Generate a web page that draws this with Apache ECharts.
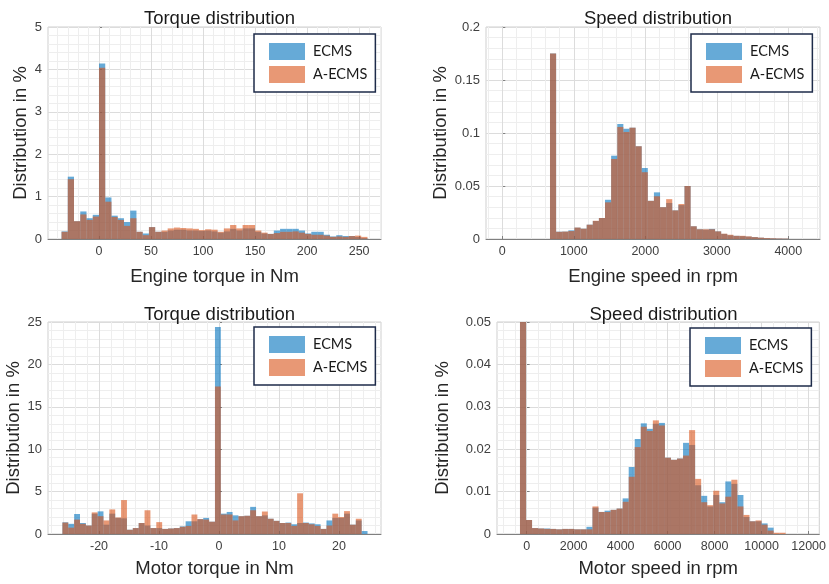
<!DOCTYPE html>
<html>
<head>
<meta charset="utf-8">
<script src="https://cdn.jsdelivr.net/npm/echarts@6/dist/echarts.min.js"></script>
<style>
  html, body { margin: 0; padding: 0; background: #ffffff; }
  #chart { width: 829px; height: 584px; }
</style>
</head>
<body>
<div id="chart"></div>
<script>
// ---------- Engine torque distribution (Nm) ----------
const engineTorqueBinStart = -36;
const engineTorqueBinWidth = 6;
const engineTorqueECMS = [0.18, 1.47, 0.42, 0.65, 0.49, 0.57, 4.14, 0.98, 0.55, 0.49, 0.40, 0.67,
  0.17, 0.13, 0.28, 0.17, 0.17, 0.20, 0.22, 0.22, 0.20, 0.20, 0.19, 0.20, 0.18, 0.15, 0.18, 0.24,
  0.20, 0.25, 0.25, 0.17, 0.13, 0.12, 0.20, 0.24, 0.24, 0.24, 0.20, 0.13, 0.17, 0.17, 0.10, 0.06,
  0.09, 0.07, 0.07, 0.05, 0.02];
const engineTorqueAECMS = [0.17, 1.41, 0.42, 0.58, 0.45, 0.53, 4.04, 0.88, 0.52, 0.45, 0.31, 0.49,
  0.17, 0.09, 0.28, 0.17, 0.20, 0.25, 0.27, 0.26, 0.25, 0.24, 0.21, 0.23, 0.22, 0.17, 0.25, 0.33,
  0.25, 0.33, 0.33, 0.20, 0.15, 0.12, 0.14, 0.17, 0.17, 0.18, 0.15, 0.12, 0.10, 0.10, 0.08, 0.05,
  0.06, 0.05, 0.07, 0.08, 0.05];
const engineTorqueTicks = [0, 50, 100, 150, 200, 250];

// ---------- Engine speed distribution (rpm) ----------
const engineSpeedBinStart = 667;
const engineSpeedBinWidth = 85.5;
const engineSpeedECMS = [0.175, 0.0069, 0.0070, 0.0082, 0.0107, 0.0097, 0.0135, 0.0170, 0.0198,
  0.0370, 0.0786, 0.1085, 0.1040, 0.1050, 0.0875, 0.0670, 0.0360, 0.0440, 0.0300, 0.0340, 0.0270,
  0.0320, 0.0500, 0.0120, 0.0092, 0.0088, 0.0095, 0.0072, 0.0048, 0.0035, 0.0030, 0.0027, 0.0022,
  0.0018, 0.0012, 0.0008, 0.0006, 0.0004, 0.0003];
const engineSpeedAECMS = [0.175, 0.0068, 0.0070, 0.0075, 0.0108, 0.0097, 0.0135, 0.0172, 0.0198,
  0.0346, 0.0755, 0.1057, 0.1010, 0.1050, 0.0875, 0.0630, 0.0360, 0.0403, 0.0300, 0.0376, 0.0270,
  0.0330, 0.0500, 0.0120, 0.0092, 0.0092, 0.0092, 0.0072, 0.0050, 0.0040, 0.0030, 0.0030, 0.0025,
  0.0018, 0.0013, 0.0009, 0.0007, 0.0005, 0.0004];
const engineSpeedTicks = [0, 1000, 2000, 3000, 4000];

// ---------- Motor torque distribution (Nm) ----------
const motorTorqueBinStart = -26.1;
const motorTorqueBinWidth = 0.978;
const motorTorqueECMS = [1.38, 1.2, 2.36, 1.3, 1.0, 2.4, 2.67, 1.1, 2.4, 1.9, 1.85, 0.5, 0.7, 1.3,
  1.0, 0.7, 0.7, 0.6, 0.65, 0.7, 0.9, 1.5, 1.5, 1.75, 1.9, 1.45, 24.4, 2.4, 2.6, 2.2, 2.1, 2.15,
  3.2, 2.1, 2.2, 1.8, 1.55, 1.3, 1.35, 1.15, 1.3, 1.35, 1.25, 1.15, 0.6, 1.6, 1.9, 1.9, 2.4, 1.1,
  1.6, 0.35];
const motorTorqueAECMS = [1.35, 0.75, 1.7, 1.2, 1.0, 2.55, 2.1, 1.6, 2.9, 1.95, 4.0, 0.5, 0.7, 1.3,
  2.8, 0.7, 1.4, 0.6, 0.65, 0.7, 0.85, 0.95, 2.3, 1.75, 1.7, 1.45, 17.4, 2.3, 2.3, 1.6, 2.1, 2.15,
  2.8, 2.1, 2.65, 1.8, 1.55, 1.3, 1.3, 0.95, 4.8, 1.3, 1.15, 0.95, 0.6, 1.0, 2.4, 2.0, 2.7, 1.1,
  1.8, 0];
const motorTorqueTicks = [-20, -10, 0, 10, 20];

// ---------- Motor speed distribution (rpm) ----------
const motorSpeedBinStart = -283;
const motorSpeedBinWidth = 257;
const motorSpeedECMS = [0.05, 0.0033, 0.0014, 0.0013, 0.0013, 0.0012, 0.0011, 0.0012, 0.0012,
  0.0011, 0.0011, 0.0017, 0.0062, 0.0052, 0.0055, 0.0057, 0.0060, 0.0084, 0.0158, 0.0224, 0.0261,
  0.0248, 0.0260, 0.0262, 0.0180, 0.0175, 0.0178, 0.0215, 0.0210, 0.0115, 0.0090, 0.0065, 0.0092,
  0.0075, 0.0124, 0.0118, 0.0092, 0.0040, 0.0030, 0.0030, 0.0025, 0.0015, 0, 0];
const motorSpeedAECMS = [0.05, 0.0033, 0.0014, 0.0013, 0.0012, 0.0012, 0.0011, 0.0012, 0.0012,
  0.0011, 0.0011, 0.0011, 0.0065, 0.0052, 0.0052, 0.0057, 0.0060, 0.0076, 0.0135, 0.0205, 0.0253,
  0.0243, 0.0268, 0.0256, 0.0180, 0.0175, 0.0178, 0.0185, 0.0245, 0.0130, 0.0075, 0.0068, 0.0102,
  0.0072, 0.0088, 0.0128, 0.0065, 0.0045, 0.0030, 0.0032, 0.0022, 0.0008, 0.0003, 0.0003];
const motorSpeedTicks = [0, 2000, 4000, 6000, 8000, 10000, 12000];

const seriesNames = ['ECMS', 'A-ECMS'];
const yAxisTitle = 'Distribution in %';

// ---------- styling ----------
const FONT = '"Liberation Sans", Arial, Helvetica, sans-serif';
const LEGEND_FONT = 'Lato, "Open Sans", sans-serif';
const FILL = ['rgba(0,114,189,0.6)', 'rgba(217,83,25,0.6)'];
const SWATCH = ['#66aad7', '#e89875'];
const AXIS_COLOR = '#808080';
const MAJOR_GRID = '#dcdcdc';
const MINOR_GRID = '#eeeeee';

const panels = [
  { title: 'Torque distribution', xName: 'Engine torque in Nm',
    grid: { left: 48, top: 27, width: 333, height: 212 },
    xMin: -49, xMax: 271, ticks: engineTorqueTicks, minorStep: 10,
    yMax: 5, yStep: 1, yNameGap: 17, xNameGap: 28, titleTop: 4,
    legend: { left: 254, top: 34 },
    start: engineTorqueBinStart, width: engineTorqueBinWidth,
    values: [engineTorqueECMS, engineTorqueAECMS] },
  { title: 'Speed distribution', xName: 'Engine speed in rpm',
    grid: { left: 486, top: 27, width: 334, height: 212 },
    xMin: -228, xMax: 4443, ticks: engineSpeedTicks, minorStep: 200,
    yMax: 0.2, yStep: 0.05, yNameGap: 34, xNameGap: 28, titleTop: 4,
    legend: { left: 691, top: 34 },
    start: engineSpeedBinStart, width: engineSpeedBinWidth,
    values: [engineSpeedECMS, engineSpeedAECMS] },
  { title: 'Torque distribution', xName: 'Motor torque in Nm',
    grid: { left: 48, top: 322, width: 333, height: 212 },
    xMin: -28.5, xMax: 27, ticks: motorTorqueTicks, minorStep: 2,
    yMax: 25, yStep: 5, yNameGap: 24, xNameGap: 25, titleTop: 300,
    legend: { left: 254, top: 327 },
    start: motorTorqueBinStart, width: motorTorqueBinWidth,
    values: [motorTorqueECMS, motorTorqueAECMS] },
  { title: 'Speed distribution', xName: 'Motor speed in rpm',
    grid: { left: 497, top: 322, width: 323, height: 212 },
    xMin: -1261, xMax: 12454, ticks: motorSpeedTicks, minorStep: 500,
    yMax: 0.05, yStep: 0.01, yNameGap: 45, xNameGap: 25, titleTop: 300,
    legend: { left: 690, top: 328 },
    start: motorSpeedBinStart, width: motorSpeedBinWidth,
    values: [motorSpeedECMS, motorSpeedAECMS] }
];

// bins -> [left edge, right edge, share]
function toBins(start, width, values) {
  return values.map((v, i) => [start + i * width, start + (i + 1) * width, v]);
}

function minorValues(p) {
  const out = [];
  const step = p.minorStep;
  const major = p.ticks[1] - p.ticks[0];
  for (let v = Math.ceil(p.xMin / step) * step; v <= p.xMax + 1e-9; v += step) {
    const r = Math.round(v * 1000) / 1000;
    if (Math.abs(r / major - Math.round(r / major)) > 1e-6) out.push(r);
  }
  return out;
}

function histRenderer(fill) {
  return function (params, api) {
    const top = api.coord([api.value(0), api.value(2)]);
    const bottom = api.coord([api.value(1), 0]);
    return {
      type: 'rect',
      shape: { x: top[0], y: top[1], width: bottom[0] - top[0], height: bottom[1] - top[1] },
      style: { fill: fill }
    };
  };
}

const plainNumber = v => String(Math.round(v * 10000) / 10000);

const option = {
  animation: false,
  backgroundColor: '#ffffff',
  title: [], grid: [], xAxis: [], yAxis: [], legend: [], series: []
};

panels.forEach((p, i) => {
  const cx = p.grid.left + p.grid.width / 2;
  option.title.push({
    text: p.title, left: cx, top: p.titleTop, textAlign: 'center',
    textStyle: { fontFamily: FONT, fontSize: 18.5, fontWeight: 'normal', color: '#1a1a1a' }
  });
  option.grid.push(Object.assign({
    show: true, borderColor: '#cfcfcf', borderWidth: 1, backgroundColor: 'transparent'
  }, p.grid));

  // main x axis: labels, ticks, major grid
  option.xAxis.push({
    type: 'value', gridIndex: i, min: p.xMin, max: p.xMax, position: 'bottom',
    name: p.xName, nameLocation: 'middle', nameGap: p.xNameGap,
    nameTextStyle: { fontFamily: FONT, fontSize: 18.5, color: '#262626' },
    axisLine: { show: true, onZero: false, lineStyle: { color: AXIS_COLOR, width: 1 } },
    axisTick: { show: true, inside: true, length: 3, customValues: p.ticks,
      lineStyle: { color: AXIS_COLOR } },
    axisLabel: { customValues: p.ticks, formatter: plainNumber,
      fontFamily: FONT, fontSize: 12.5, color: '#404040', margin: 6 },
    splitLine: { show: true, lineStyle: { color: MAJOR_GRID, width: 1 } },
    z: 1
  });
  // second x axis carrying only the minor grid
  option.xAxis.push({
    type: 'value', gridIndex: i, min: p.xMin, max: p.xMax, position: 'top',
    axisLine: { show: false }, axisLabel: { show: false },
    axisTick: { show: false, customValues: minorValues(p) },
    splitLine: { show: true, lineStyle: { color: MINOR_GRID, width: 1 } },
    z: 0
  });

  option.yAxis.push({
    type: 'value', gridIndex: i, min: 0, max: p.yMax, interval: p.yStep,
    name: yAxisTitle, nameLocation: 'middle', nameGap: p.yNameGap, nameRotate: 90,
    nameTextStyle: { fontFamily: FONT, fontSize: 18.5, color: '#262626' },
    axisLine: { show: true, lineStyle: { color: '#b4b4b4', width: 1 } },
    axisTick: { show: true, inside: true, length: 3, lineStyle: { color: AXIS_COLOR } },
    axisLabel: { formatter: plainNumber, fontFamily: FONT, fontSize: 13, color: '#404040', margin: 6 },
    splitLine: { show: true, lineStyle: { color: MAJOR_GRID, width: 1 } },
    minorTick: { show: false, splitNumber: 5 },
    minorSplitLine: { show: true, lineStyle: { color: MINOR_GRID, width: 1 } }
  });

  option.legend.push({
    left: p.legend.left, top: p.legend.top, orient: 'vertical',
    selectedMode: false, icon: 'rect', itemWidth: 36, itemHeight: 17, itemGap: 6,
    padding: [9, 8, 9, 15],
    backgroundColor: '#ffffff', borderColor: '#1e2b4a', borderWidth: 1.5,
    textStyle: { fontFamily: LEGEND_FONT, fontSize: 14.5, color: '#1a1a1a', padding: [0, 0, 0, 3] },
    data: seriesNames.map((n, k) => ({ name: n, itemStyle: { color: SWATCH[k], borderWidth: 0 } }))
  });

  p.values.forEach((vals, k) => {
    option.series.push({
      name: seriesNames[k], type: 'custom', xAxisIndex: 2 * i, yAxisIndex: i,
      itemStyle: { color: SWATCH[k] },
      encode: { x: [0, 1], y: 2 },
      clip: true, z: 2 + k,
      renderItem: histRenderer(FILL[k]),
      data: toBins(p.start, p.width, vals)
    });
  });
});

const chart = echarts.init(document.getElementById('chart'), null, { renderer: 'canvas' });
chart.setOption(option);
</script>
</body>
</html>
